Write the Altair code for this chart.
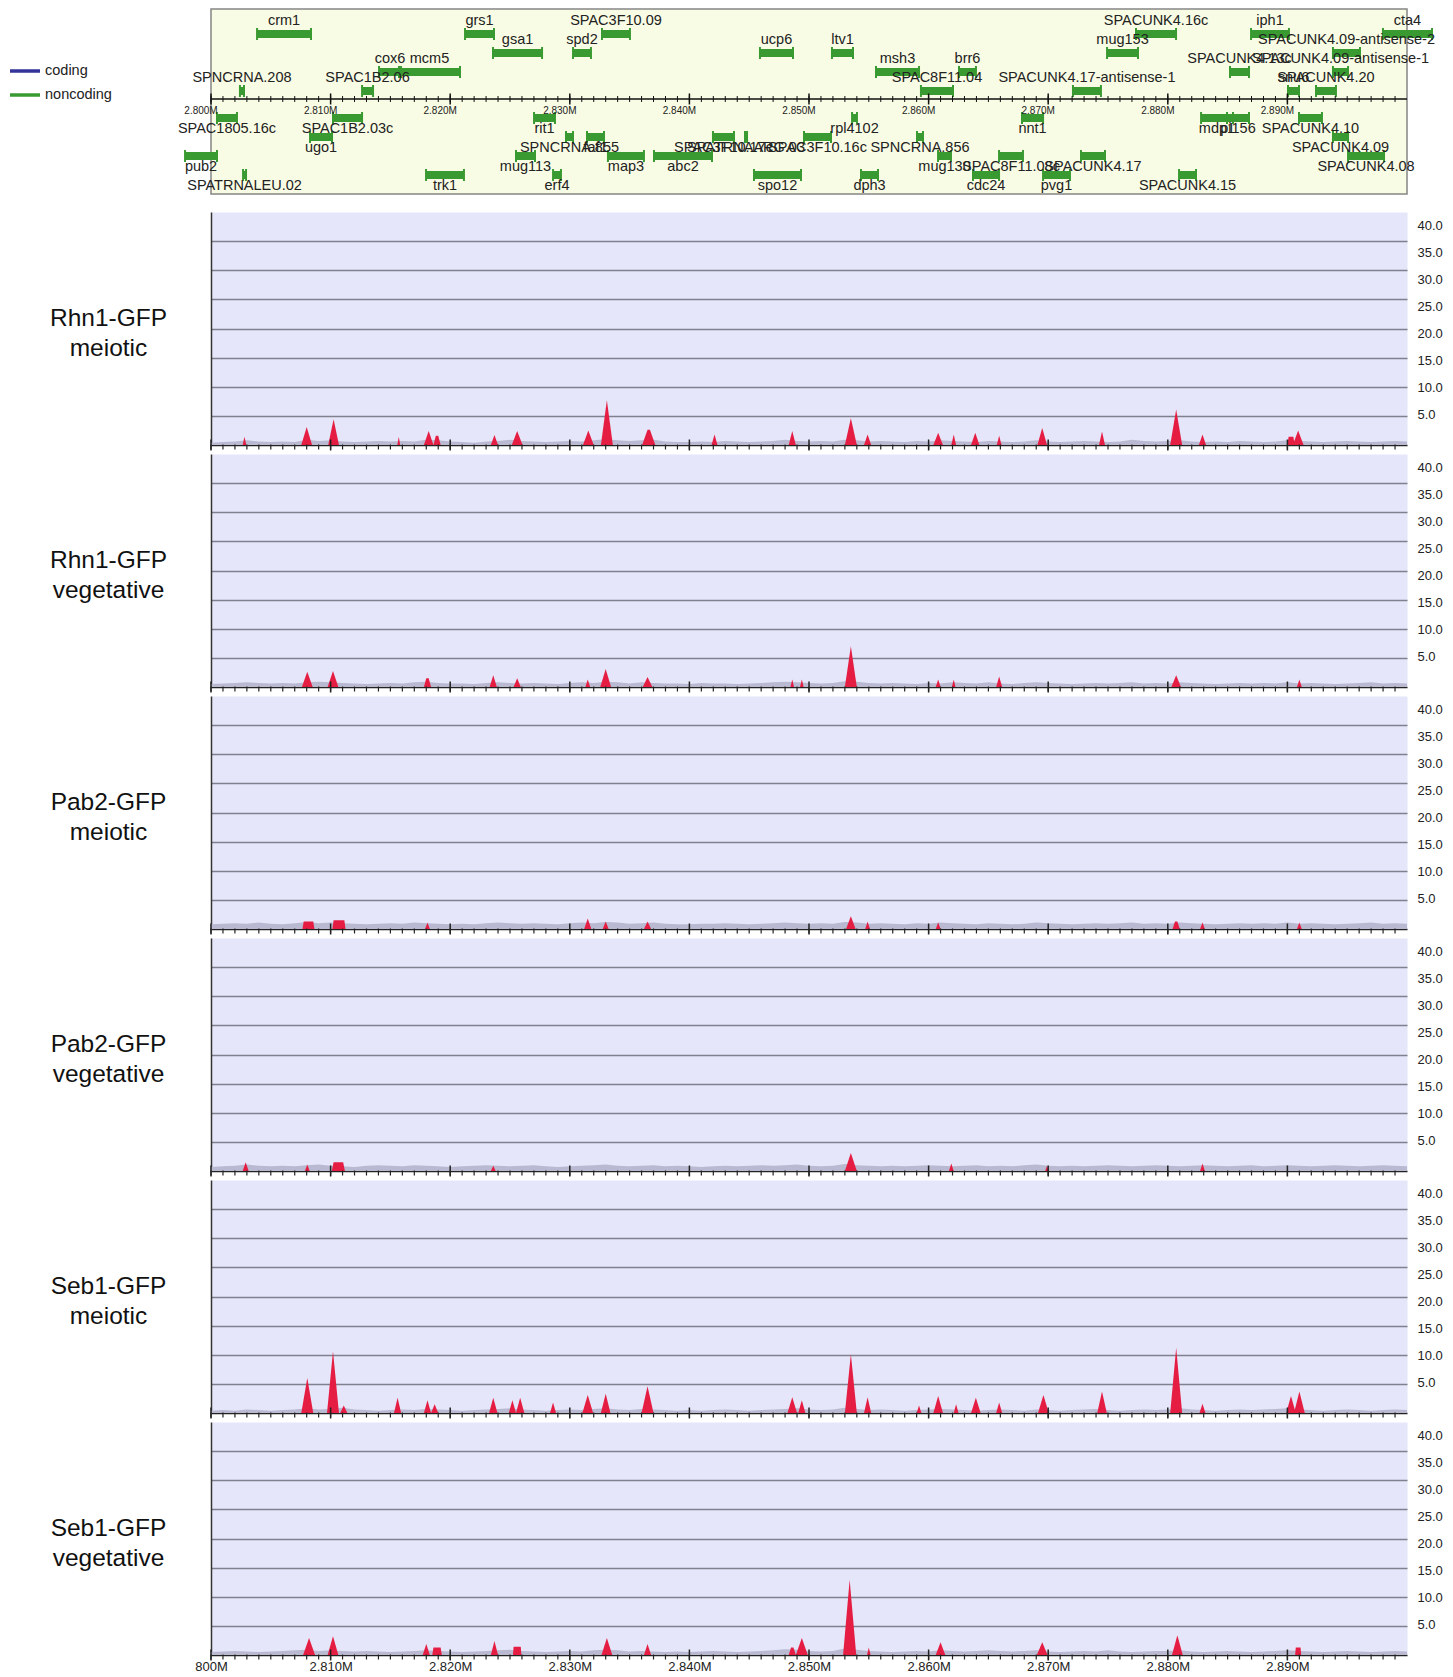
import altair as alt
import pandas as pd

# ---------------- genes (kb) ----------------
GENE_NAMES = ["crm1", "grs1", "SPAC3F10.09", "SPACUNK4.16c", "iph1", "cta4",
              "gsa1", "spd2", "ucp6", "ltv1", "mug153", "SPACUNK4.09-antisense-2",
              "cox6", "mcm5", "msh3", "brr6", "SPACUNK4.13c", "SPACUNK4.09-antisense-1",
              "SPNCRNA.208", "SPAC1B2.06", "SPAC8F11.04", "SPACUNK4.17-antisense-1", "snu6", "SPACUNK4.20",
              "SPAC1805.16c", "SPAC1B2.03c", "rit1", "rpl4102", "nnt1", "mdp1", "pi156", "SPACUNK4.10",
              "ugo1", "SPNCRNA.855", "faf1", "SPAC3F10.17c", "SPATRNAARG.03", "SPAC3F10.16c", "SPNCRNA.856", "SPACUNK4.09",
              "pub2", "mug113", "map3", "abc2", "mug130", "SPAC8F11.08c", "SPACUNK4.17", "SPACUNK4.08",
              "SPATRNALEU.02", "trk1", "erf4", "spo12", "dph3", "cdc24", "pvg1", "SPACUNK4.15"]
GENE_START_KB = [2803.85, 2821.24, 2832.69, 2877.34, 2886.96, 2897.99,
                 2823.58, 2830.27, 2845.90, 2851.92, 2874.92, 2893.81,
                 2814.05, 2815.72, 2855.60, 2862.54, 2885.20, 2893.81,
                 2802.42, 2812.63, 2859.36, 2872.07, 2890.05, 2892.39,
                 2800.50, 2810.20, 2827.01, 2853.60, 2867.81, 2882.78, 2884.95, 2890.97,
                 2808.28, 2829.68, 2831.44, 2841.97, 2844.65, 2849.58, 2859.03, 2893.81,
                 2797.83, 2825.50, 2833.19, 2837.04, 2860.79, 2865.89, 2872.74, 2895.07,
                 2802.68, 2817.98, 2828.60, 2845.40, 2854.35, 2863.71, 2869.57, 2880.94]
GENE_END_KB = [2808.36, 2823.66, 2835.03, 2880.69, 2890.13, 2902.09,
               2827.68, 2831.77, 2848.66, 2853.68, 2877.51, 2896.07,
               2815.89, 2820.82, 2859.20, 2863.96, 2886.79, 2895.07,
               2802.76, 2813.55, 2862.04, 2874.41, 2890.97, 2894.06,
               2802.17, 2812.63, 2828.76, 2854.01, 2869.57, 2885.45, 2886.79, 2892.89,
               2810.12, 2830.27, 2832.86, 2843.73, 2844.82, 2851.84, 2859.53, 2895.07,
               2800.50, 2827.09, 2836.20, 2841.89, 2861.87, 2867.89, 2874.75, 2898.08,
               2802.93, 2821.15, 2829.26, 2849.33, 2855.77, 2865.89, 2871.82, 2882.36]
GENE_ROW = [1] * 6 + [2] * 6 + [3] * 6 + [4] * 6 + [5] * 8 + [6] * 8 + [7] * 8 + [8] * 8
LEGEND_TYPES = ["coding", "noncoding"]

# ---------------- tracks ----------------
TRACK_LABELS = [["Rhn1-GFP", "meiotic"], ["Rhn1-GFP", "vegetative"],
                ["Pab2-GFP", "meiotic"], ["Pab2-GFP", "vegetative"],
                ["Seb1-GFP", "meiotic"], ["Seb1-GFP", "vegetative"]]
Y_LABELS = [5, 10, 15, 20, 25, 30, 35, 40]
GRID_VALUES = [5, 10, 15, 20, 25, 30, 35]

# background (grey) signal, one value per kb from 2.800M to 2.900M
GREY_1 = [0.4, 0.5, 0.6, 0.8, 0.6, 0.5, 0.6, 0.5, 0.9, 0.7, 0.8, 0.6, 0.5, 0.6, 0.7, 0.6, 0.7, 0.6, 0.9, 0.8,
          0.6, 0.5, 0.4, 0.6, 0.7, 0.9, 0.7, 0.6, 0.5, 0.6, 0.7, 0.6, 0.8, 1.0, 0.8, 0.7, 0.8, 0.9, 0.6, 0.5,
          0.5, 0.6, 0.5, 0.7, 0.6, 0.5, 0.6, 0.7, 0.9, 0.7, 0.6, 0.7, 0.6, 0.9, 0.8, 0.6, 0.7, 0.6, 0.5, 0.7,
          0.6, 0.8, 0.7, 0.6, 0.5, 0.7, 0.6, 0.5, 0.6, 0.8, 0.6, 0.5, 0.6, 0.7, 0.6, 0.5, 0.6, 0.9, 0.7, 0.6,
          0.7, 0.8, 0.6, 0.5, 0.6, 0.5, 0.7, 0.6, 0.5, 0.6, 0.8, 0.7, 0.6, 0.5, 0.6, 0.7, 0.6, 0.5, 0.6, 0.7, 0.6]
GREY_2 = [0.5, 0.6, 0.7, 0.8, 0.7, 0.6, 0.7, 0.6, 0.8, 0.9, 0.8, 0.7, 0.6, 0.5, 0.6, 0.7, 0.6, 0.8, 0.9, 0.7,
          0.6, 0.6, 0.5, 0.7, 0.8, 0.7, 0.6, 0.7, 0.6, 0.5, 0.7, 0.8, 0.7, 0.9, 0.8, 0.6, 0.8, 0.7, 0.6, 0.6,
          0.5, 0.7, 0.6, 0.6, 0.5, 0.6, 0.7, 0.8, 0.9, 0.8, 0.7, 0.6, 0.7, 1.0, 0.9, 0.7, 0.6, 0.7, 0.6, 0.5,
          0.7, 0.6, 0.8, 0.7, 0.6, 0.8, 0.6, 0.5, 0.7, 0.8, 0.7, 0.6, 0.5, 0.6, 0.7, 0.6, 0.7, 0.8, 0.6, 0.7,
          0.6, 0.8, 0.7, 0.6, 0.5, 0.6, 0.7, 0.6, 0.7, 0.6, 0.8, 0.6, 0.7, 0.6, 0.5, 0.6, 0.7, 0.8, 0.6, 0.7, 0.6]
GREY_3 = [0.8, 0.9, 1.0, 0.9, 1.1, 0.9, 0.8, 1.0, 1.2, 1.0, 1.1, 1.0, 0.9, 0.8, 0.9, 1.0, 0.9, 1.1, 1.0, 0.9,
          0.8, 0.9, 0.8, 1.0, 1.1, 1.0, 0.9, 1.0, 0.9, 0.8, 1.0, 1.1, 1.0, 1.2, 1.1, 0.9, 1.0, 1.1, 0.9, 0.8,
          0.8, 0.9, 0.9, 1.0, 0.9, 0.8, 0.9, 1.0, 1.1, 1.0, 0.9, 1.0, 0.9, 1.2, 1.1, 0.9, 1.0, 0.9, 0.8, 1.0,
          0.9, 1.1, 1.0, 0.9, 0.8, 1.0, 0.9, 0.8, 0.9, 1.1, 1.0, 0.9, 0.8, 0.9, 1.0, 0.9, 1.0, 1.1, 0.9, 1.0,
          0.9, 1.1, 1.0, 0.9, 0.8, 0.9, 1.0, 0.9, 1.0, 0.9, 1.1, 0.9, 1.0, 0.9, 0.8, 0.9, 1.0, 1.1, 0.9, 1.0, 0.9]
GREY_4 = [0.7, 0.8, 0.9, 1.1, 0.9, 0.8, 0.9, 0.8, 1.0, 1.1, 0.9, 0.8, 0.7, 0.9, 1.0, 0.9, 0.8, 1.0, 0.9, 0.8,
          0.7, 0.8, 0.9, 1.0, 0.9, 0.8, 0.9, 1.0, 0.8, 0.7, 0.8, 0.9, 1.0, 1.1, 0.9, 0.8, 0.9, 1.0, 0.8, 0.9,
          0.8, 0.7, 0.8, 0.9, 0.8, 0.9, 1.0, 0.9, 1.0, 1.1, 0.9, 0.8, 0.9, 1.2, 1.0, 0.9, 0.8, 0.9, 0.8, 0.9,
          1.0, 0.9, 0.8, 0.9, 1.0, 0.8, 0.9, 0.8, 1.0, 1.1, 0.9, 0.8, 0.9, 0.8, 0.9, 1.0, 0.9, 0.8, 0.9, 1.0,
          0.9, 0.8, 0.9, 1.0, 0.9, 0.8, 0.9, 1.0, 0.8, 0.9, 1.0, 0.9, 0.8, 0.9, 1.0, 0.9, 0.8, 0.9, 1.0, 0.9, 0.8]
GREY_5 = [0.4, 0.5, 0.4, 0.6, 0.5, 0.4, 0.5, 0.6, 0.8, 0.6, 0.7, 0.9, 0.6, 0.5, 0.4, 0.5, 0.6, 0.5, 0.7, 0.6,
          0.5, 0.4, 0.5, 0.6, 0.7, 0.8, 0.6, 0.5, 0.4, 0.5, 0.6, 0.5, 0.7, 0.8, 0.6, 0.5, 0.7, 0.6, 0.5, 0.4,
          0.5, 0.4, 0.5, 0.6, 0.5, 0.4, 0.5, 0.6, 0.7, 0.8, 0.6, 0.5, 0.6, 0.9, 0.7, 0.5, 0.6, 0.5, 0.4, 0.5,
          0.6, 0.7, 0.6, 0.5, 0.4, 0.5, 0.6, 0.5, 0.4, 0.6, 0.5, 0.4, 0.5, 0.6, 0.7, 0.5, 0.4, 0.5, 0.6, 0.5,
          0.6, 0.8, 0.6, 0.5, 0.4, 0.5, 0.6, 0.5, 0.6, 0.7, 0.8, 0.6, 0.5, 0.4, 0.5, 0.6, 0.5, 0.4, 0.5, 0.6, 0.5]
GREY_6 = [0.5, 0.6, 0.7, 0.6, 0.5, 0.6, 0.7, 0.8, 0.9, 0.7, 0.8, 0.7, 0.6, 0.7, 0.6, 0.5, 0.6, 0.7, 0.8, 0.7,
          0.6, 0.5, 0.6, 0.7, 0.8, 0.9, 0.7, 0.6, 0.5, 0.6, 0.7, 0.6, 0.8, 0.9, 0.8, 0.6, 0.7, 0.6, 0.5, 0.6,
          0.5, 0.6, 0.7, 0.6, 0.5, 0.6, 0.7, 0.8, 1.0, 0.9, 0.7, 0.6, 0.7, 1.1, 0.9, 0.7, 0.6, 0.5, 0.6, 0.7,
          0.6, 0.8, 0.7, 0.6, 0.7, 0.8, 0.7, 0.6, 0.7, 0.8, 0.6, 0.5, 0.6, 0.7, 0.6, 0.8, 0.6, 0.5, 0.6, 0.7,
          0.7, 0.8, 0.6, 0.5, 0.6, 0.7, 0.6, 0.5, 0.6, 0.7, 0.8, 0.7, 0.6, 0.5, 0.6, 0.7, 0.6, 0.5, 0.6, 0.7, 0.6]
GREY_TRACKS = [GREY_1, GREY_2, GREY_3, GREY_4, GREY_5, GREY_6]

# red peaks: (summit kb, height, half-width kb, half-width of flat top kb)
PEAKS_1 = [(2802.8, 1.4, 0.15, 0), (2808.0, 3.1, 0.45, 0), (2810.25, 4.4, 0.45, 0), (2815.7, 1.4, 0.12, 0),
           (2818.2, 2.4, 0.4, 0), (2818.9, 1.6, 0.3, 0.1), (2823.7, 1.7, 0.3, 0), (2825.6, 2.4, 0.45, 0),
           (2831.55, 2.5, 0.45, 0), (2833.1, 7.7, 0.5, 0), (2836.6, 2.6, 0.55, 0.1), (2842.1, 1.8, 0.25, 0),
           (2848.6, 2.4, 0.3, 0), (2853.5, 4.6, 0.5, 0), (2854.9, 1.8, 0.3, 0), (2860.8, 2.1, 0.4, 0),
           (2862.1, 1.8, 0.2, 0), (2863.9, 2.1, 0.35, 0), (2865.9, 1.6, 0.2, 0), (2869.5, 2.9, 0.4, 0),
           (2874.5, 2.3, 0.25, 0), (2880.7, 6.1, 0.5, 0), (2882.9, 1.8, 0.3, 0), (2890.3, 1.4, 0.3, 0.2),
           (2890.9, 2.5, 0.45, 0)]
PEAKS_2 = [(2808.05, 2.6, 0.45, 0), (2810.2, 2.75, 0.45, 0), (2818.1, 1.5, 0.3, 0.1), (2823.6, 2.0, 0.3, 0),
           (2825.6, 1.5, 0.3, 0), (2831.5, 1.3, 0.2, 0), (2833.0, 3.1, 0.45, 0), (2836.5, 1.7, 0.4, 0),
           (2848.6, 1.3, 0.15, 0), (2849.4, 1.3, 0.15, 0), (2853.5, 7.0, 0.5, 0), (2860.8, 1.3, 0.2, 0),
           (2862.1, 1.3, 0.15, 0), (2865.9, 1.8, 0.25, 0), (2880.7, 2.0, 0.4, 0), (2891.0, 1.3, 0.2, 0)]
PEAKS_3 = [(2808.15, 1.3, 0.5, 0.4), (2810.7, 1.5, 0.55, 0.45), (2818.1, 1.1, 0.2, 0), (2831.5, 1.8, 0.3, 0),
           (2833.0, 1.3, 0.25, 0), (2836.5, 1.3, 0.3, 0), (2853.5, 2.2, 0.4, 0), (2854.9, 1.3, 0.2, 0),
           (2860.8, 1.1, 0.2, 0), (2880.7, 1.3, 0.3, 0.1), (2882.9, 1.1, 0.2, 0), (2891.0, 1.1, 0.2, 0)]
PEAKS_4 = [(2802.9, 1.5, 0.25, 0), (2808.05, 1.1, 0.2, 0), (2810.65, 1.5, 0.55, 0.4), (2823.6, 0.9, 0.2, 0),
           (2853.5, 3.1, 0.5, 0), (2861.9, 1.3, 0.2, 0), (2869.9, 0.9, 0.15, 0), (2882.9, 1.3, 0.2, 0)]
PEAKS_5 = [(2808.05, 6.0, 0.5, 0), (2810.2, 10.6, 0.5, 0), (2811.1, 1.3, 0.3, 0), (2815.6, 2.6, 0.3, 0),
           (2818.1, 2.2, 0.3, 0), (2818.7, 1.5, 0.3, 0), (2823.6, 2.6, 0.35, 0), (2825.2, 2.2, 0.3, 0),
           (2825.85, 2.6, 0.35, 0), (2828.6, 1.8, 0.25, 0), (2831.5, 3.1, 0.45, 0), (2833.0, 3.3, 0.4, 0),
           (2836.5, 4.6, 0.5, 0), (2848.6, 2.7, 0.4, 0), (2849.4, 2.2, 0.3, 0), (2853.5, 10.1, 0.5, 0),
           (2854.9, 2.7, 0.3, 0), (2859.2, 1.3, 0.2, 0), (2860.8, 2.9, 0.4, 0), (2862.3, 1.5, 0.2, 0),
           (2863.95, 2.6, 0.4, 0), (2865.9, 1.8, 0.25, 0), (2869.6, 3.1, 0.45, 0), (2874.5, 3.7, 0.4, 0),
           (2880.7, 11.2, 0.5, 0), (2882.9, 1.6, 0.25, 0), (2890.3, 2.9, 0.4, 0), (2891.0, 3.7, 0.45, 0)]
PEAKS_6 = [(2808.2, 2.9, 0.5, 0), (2810.2, 3.2, 0.45, 0), (2818.0, 1.9, 0.3, 0), (2818.9, 1.3, 0.4, 0.3),
           (2823.7, 2.4, 0.3, 0), (2825.6, 1.4, 0.35, 0.3), (2833.1, 2.9, 0.45, 0), (2836.5, 1.9, 0.3, 0),
           (2848.6, 1.3, 0.3, 0.1), (2849.4, 2.9, 0.5, 0), (2853.4, 12.9, 0.55, 0), (2855.0, 1.3, 0.15, 0),
           (2861.0, 2.2, 0.4, 0), (2869.5, 2.2, 0.45, 0), (2880.8, 3.4, 0.45, 0), (2890.9, 1.3, 0.25, 0.2)]
PEAK_TRACKS = [PEAKS_1, PEAKS_2, PEAKS_3, PEAKS_4, PEAKS_5, PEAKS_6]

# ---------------- style ----------------
FONT = "Liberation Sans"
X_DOMAIN = [2800000, 2900000]
W = 1196
TRACK_H = 233
GENE_H = 185
GREEN = "#3A9A32"
BLUE = "#33339A"
RED = "#E51D43"
GREY = "#B9B9D2"
LAVENDER = "#E6E6FA"
PANEL_BG = "#F9FCE4"
AXIS_ROW = 4.42          # row position of the genomic axis inside the gene panel
GENE_Y_DOMAIN = [-0.316, 9.421]

xscale = alt.Scale(domain=X_DOMAIN, nice=False, zero=False)
minor_ticks = list(range(2800000, 2900000, 1000))
major_ticks = list(range(2800000, 2900000, 10000))
minor_df = pd.DataFrame({"p": minor_ticks})
major_df = pd.DataFrame({"p": major_ticks,
                         "lab": [f"{p / 1e6:.3f}M" for p in major_ticks]})

# ---------------- gene panel ----------------
genes = pd.DataFrame({
    "name": GENE_NAMES,
    "start": [s * 1000 for s in GENE_START_KB],
    "end": [e * 1000 for e in GENE_END_KB],
    "row": GENE_ROW,
    "type": ["noncoding"] * len(GENE_NAMES),
})
gy = alt.Scale(domain=GENE_Y_DOMAIN, reverse=True, nice=False, zero=False)

gbase = alt.Chart(genes).transform_calculate(
    yy="datum.row <= 4 ? datum.row : datum.row + 0.42",
    ly="datum.row <= 4 ? datum.row - 0.66 : datum.row + 0.42 + 0.6",
    mid="(datum.start + datum.end) / 2",
)

bars = gbase.mark_rule(strokeWidth=8).encode(
    x=alt.X("start:Q", scale=xscale, axis=None),
    x2="end:Q",
    y=alt.Y("yy:Q", scale=gy, axis=None),
    color=alt.Color("type:N",
                    scale=alt.Scale(domain=LEGEND_TYPES, range=[BLUE, GREEN]),
                    legend=alt.Legend(orient="none", legendX=-203, legendY=45, title=None,
                                      symbolType="stroke", symbolStrokeWidth=3.5, symbolSize=900,
                                      labelFontSize=14.5, labelColor="#222", labelFont=FONT,
                                      labelOffset=3, rowPadding=-4)),
)
cap_l = gbase.mark_tick(orient="vertical", size=12, thickness=2, color=GREEN, opacity=1).encode(
    x=alt.X("start:Q", scale=xscale), y=alt.Y("yy:Q", scale=gy))
cap_r = gbase.mark_tick(orient="vertical", size=12, thickness=2, color=GREEN, opacity=1).encode(
    x=alt.X("end:Q", scale=xscale), y=alt.Y("yy:Q", scale=gy))
glabels = gbase.mark_text(fontSize=14.5, color="#222", baseline="middle", font=FONT).encode(
    x=alt.X("mid:Q", scale=xscale), y=alt.Y("ly:Q", scale=gy), text="name:N")

axis_df = pd.DataFrame({"a": [X_DOMAIN[0]], "b": [X_DOMAIN[1]]})
gaxis = alt.Chart(axis_df).mark_rule(color="#111", strokeWidth=1.5).encode(
    x=alt.X("a:Q", scale=xscale), x2="b:Q", y=alt.datum(AXIS_ROW, scale=gy))
gminor = alt.Chart(minor_df).mark_tick(orient="vertical", size=6, thickness=1, color="#111", opacity=1).encode(
    x=alt.X("p:Q", scale=xscale), y=alt.datum(AXIS_ROW, scale=gy))
gmajor = alt.Chart(major_df).mark_tick(orient="vertical", size=11, thickness=1.5, color="#111", opacity=1).encode(
    x=alt.X("p:Q", scale=xscale), y=alt.datum(AXIS_ROW, scale=gy))
gmajor_lab = alt.Chart(major_df).mark_text(fontSize=10, color="#222", dx=-10, dy=12, baseline="middle",
                                           font=FONT).encode(
    x=alt.X("p:Q", scale=xscale), y=alt.datum(AXIS_ROW, scale=gy), text="lab:N")

gene_panel = alt.layer(bars, cap_l, cap_r, glabels, gaxis, gminor, gmajor, gmajor_lab).properties(
    width=W, height=GENE_H,
    view=alt.ViewBackground(fill=PANEL_BG, stroke="#858585", strokeWidth=1.5),
)

# ---------------- signal tracks ----------------
LABEL_EXPR = ("datum.value === 2800000 ? '800M' : format(datum.value / 1000000, '.3f') + 'M'")


def x_axis(show_labels):
    return alt.Axis(values=major_ticks, grid=False, title=None, ticks=False, tickSize=0,
                    domainColor="#222", domainWidth=1.5,
                    labels=show_labels, labelExpr=LABEL_EXPR, labelFontSize=13, labelColor="#222",
                    labelFont=FONT, labelFlush=False, labelOverlap=False, labelPadding=5)


def track(i):
    last = i == len(TRACK_LABELS) - 1
    grey_df = pd.DataFrame({"pos": [2800000 + k * 1000 for k in range(len(GREY_TRACKS[i]))],
                            "v": GREY_TRACKS[i]})
    rows = []
    for j, (c, h, w, f) in enumerate(PEAK_TRACKS[i]):
        for p, v in ((c - w, 0.0), (c - f, h), (c + f, h), (c + w, 0.0)):
            rows.append({"pid": j, "pos": p * 1000, "v": v})
    peak_df = pd.DataFrame(rows)
    yscale = alt.Scale(domain=[0, 40], nice=False, zero=True)

    grey = alt.Chart(grey_df).mark_area(color=GREY, interpolate="linear").encode(
        x=alt.X("pos:Q", scale=xscale, axis=x_axis(last)),
        y=alt.Y("v:Q", scale=yscale, stack=None,
                axis=alt.Axis(orient="left", values=GRID_VALUES, grid=True, gridColor="#80808F",
                              gridWidth=1.3, labels=False, ticks=False, domainColor="#333",
                              domainWidth=1.5, title=TRACK_LABELS[i], titleAngle=0,
                              titleAlign="center", titleBaseline="middle", titleX=-103, titleY=106,
                              titleFontSize=24.5, titleFontWeight="normal", titleColor="#111",
                              titleFont=FONT, titleLineHeight=30)),
    )
    red = alt.Chart(peak_df).mark_area(color=RED, interpolate="linear").encode(
        x=alt.X("pos:Q", scale=xscale),
        y=alt.Y("v:Q", scale=yscale, stack=None, axis=None),
        detail="pid:N",
    )
    tmin = alt.Chart(minor_df).mark_tick(orient="vertical", size=5, thickness=1.2, color="#222",
                                         opacity=1).encode(
        x=alt.X("p:Q", scale=xscale), y=alt.value(TRACK_H + 2))
    tmaj = alt.Chart(major_df).mark_tick(orient="vertical", size=11, thickness=1.5, color="#222",
                                         opacity=1).encode(
        x=alt.X("p:Q", scale=xscale), y=alt.value(TRACK_H))
    lab = alt.Chart(pd.DataFrame({"t": Y_LABELS})).mark_point(opacity=0).encode(
        y=alt.Y("t:Q", scale=alt.Scale(domain=[-0.706, 42.6], nice=False, zero=False),
                axis=alt.Axis(orient="right", values=Y_LABELS, format=".1f", ticks=False,
                              domain=False, grid=False, labelPadding=10, labelFontSize=13,
                              labelColor="#222", labelFont=FONT, title=None)),
    )
    return alt.layer(grey, red, tmin, tmaj, lab).resolve_scale(y="independent").properties(
        width=W, height=TRACK_H,
        view=alt.ViewBackground(fill=LAVENDER, stroke="transparent"),
    )


tracks = alt.vconcat(*[track(i) for i in range(len(TRACK_LABELS))], spacing=9, bounds="flush")

chart = alt.vconcat(gene_panel, tracks, spacing=18, bounds="flush").properties(
    padding=0
).configure(font=FONT)

chart.save("out.html", embed_options={"renderer": "svg", "actions": False})
